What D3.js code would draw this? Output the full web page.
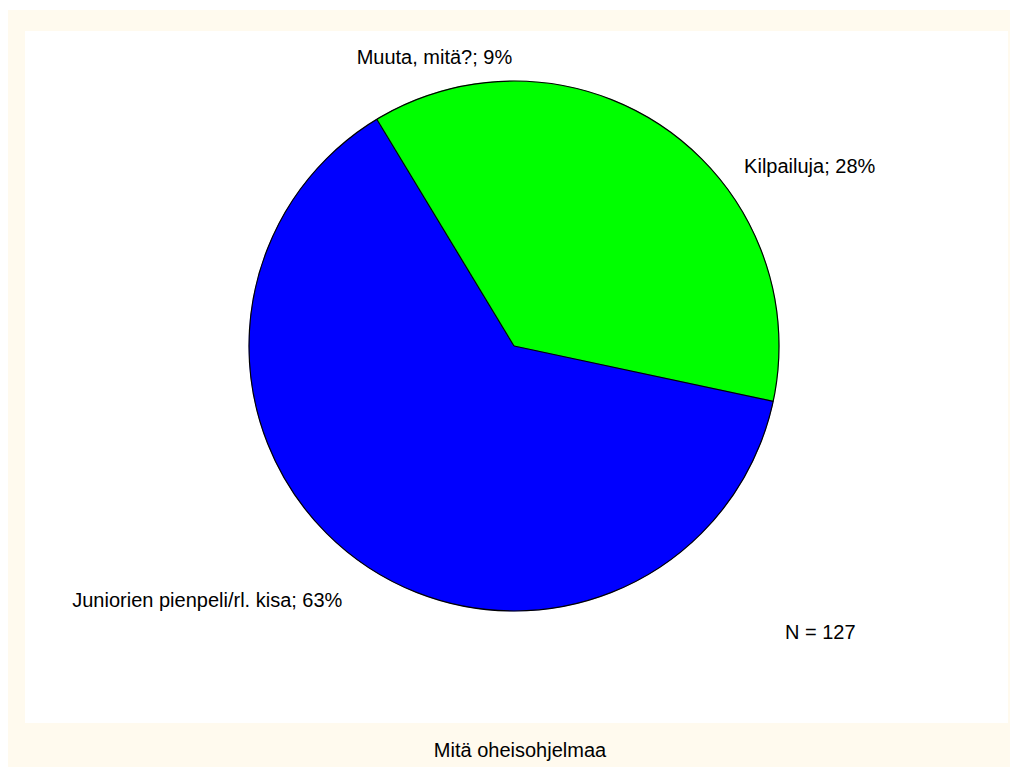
<!DOCTYPE html>
<html>
<head>
<meta charset="utf-8">
<script src="https://cdn.jsdelivr.net/npm/d3@7/dist/d3.min.js"></script>
<style>
  html, body { margin: 0; padding: 0; background: #ffffff; }
  svg { display: block; }
  text { font-family: "Liberation Sans", Arial, sans-serif; fill: #000; }
</style>
</head>
<body>
<svg id="chart" width="1011" height="767"></svg>
<script>
// Responses to "Mitä oheisohjelmaa" (N = 127)
const categories = ["Kilpailuja", "Juniorien pienpeli/rl. kisa", "Muuta, mitä?"];
const counts = [36, 80, 11];
const percentLabels = ["28%", "63%", "9%"];
const sliceColors = ["#00ff00", "#0000ff", "#00ff00"];
const chartTitle = "Mitä oheisohjelmaa";
const sampleNote = "N = 127";

const svg = d3.select("#chart");

// Frame: cream border with a white plot panel
svg.append("rect").attr("x", 8).attr("y", 10).attr("width", 1002).attr("height", 757)
  .attr("fill", "#fffaee");
svg.append("rect").attr("x", 25).attr("y", 31).attr("width", 983).attr("height", 692)
  .attr("fill", "#ffffff");

const cx = 514, cy = 346, R = 265;
const g = svg.append("g").attr("transform", `translate(${cx},${cy})`);

const pie = d3.pie().sort(null).value(d => d)
  .startAngle(0).endAngle(2 * Math.PI);
const arcs = pie(counts);
const arc = d3.arc().innerRadius(0).outerRadius(R);

// Slices (fill only; edges drawn separately)
g.selectAll("path.slice").data(arcs).join("path")
  .attr("class", "slice")
  .attr("d", arc)
  .attr("fill", (d, i) => sliceColors[i])
  .attr("stroke", (d, i) => sliceColors[i])
  .attr("stroke-width", 0.5);

// Radial edges only where neighbouring colours differ
const edges = [];
arcs.forEach((d, i) => {
  const prev = (i - 1 + arcs.length) % arcs.length;
  if (sliceColors[prev] !== sliceColors[i]) edges.push(d.startAngle);
});
g.selectAll("line.edge").data(edges).join("line")
  .attr("class", "edge")
  .attr("x1", 0).attr("y1", 0)
  .attr("x2", a => R * Math.sin(a))
  .attr("y2", a => -R * Math.cos(a))
  .attr("stroke", "#000").attr("stroke-width", 1.2);

// Outline
g.append("circle").attr("r", R).attr("fill", "none")
  .attr("stroke", "#000").attr("stroke-width", 1.2);

// Slice labels placed just outside the rim along each slice's mid angle
const labelR = 296;
const mid = d => (d.startAngle + d.endAngle) / 2;
g.selectAll("text.lbl").data(arcs).join("text")
  .attr("class", "lbl")
  .attr("font-size", 20)
  .attr("x", d => labelR * Math.sin(mid(d)))
  .attr("y", d => -labelR * Math.cos(mid(d)))
  .attr("dy", d => {
    const c = Math.cos(mid(d));
    return c > 0.9 ? "0.15em" : (c > 0 ? "0.65em" : "1em");
  })
  .attr("text-anchor", d => {
    const s = Math.sin(mid(d));
    return Math.abs(s) < 0.35 ? "middle" : (s > 0 ? "start" : "end");
  })
  .text((d, i) => `${categories[i]}; ${percentLabels[i]}`);

// Sample size note
svg.append("text").attr("x", 785).attr("y", 639).attr("font-size", 20)
  .text(sampleNote);

// Title at the bottom
svg.append("text").attr("x", 520).attr("y", 757).attr("font-size", 20)
  .attr("text-anchor", "middle").text(chartTitle);
</script>
</body>
</html>
